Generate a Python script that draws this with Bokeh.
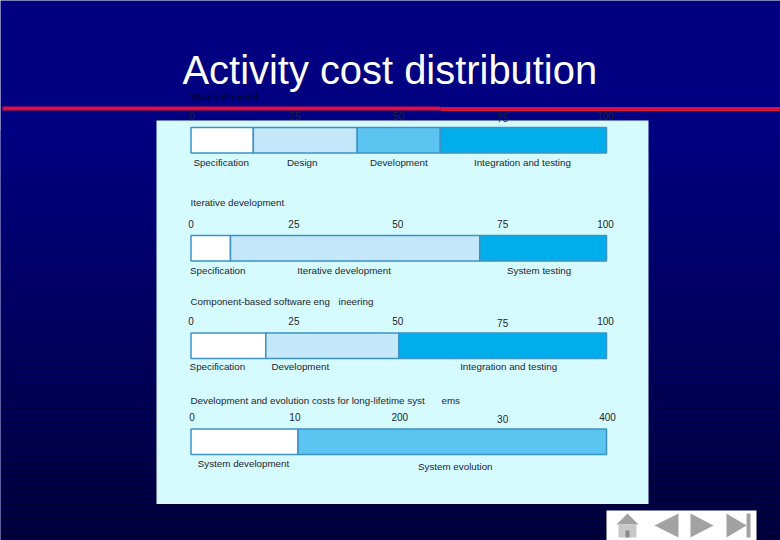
from bokeh.core.properties import value
from bokeh.embed import file_html
from bokeh.models import Range1d
from bokeh.plotting import figure
from bokeh.resources import INLINE

# ---- data ----
TITLE = "Activity cost distribution"
row1_name = "Waterfall model"
row1_stages = ["Specification", "Design", "Development", "Integration and testing"]
row1_costs = [15, 25, 20, 40]
row1_ticks = ["0", "25", "50", "75", "100"]
row1_tick_values = [0, 25, 50, 75, 100]

row2_name = ["Iterative development"]
row2_stages = ["Specification", "Iterative development", "System testing"]
row2_costs = [9.5, 60, 30.5]
row2_ticks = ["0", "25", "50", "75", "100"]
row2_tick_values = [0, 25, 50, 75, 100]

row3_name = ["Component-based software eng", "ineering"]
row3_stages = ["Specification", "Development", "Integration and testing"]
row3_costs = [18, 32, 50]
row3_ticks = ["0", "25", "50", "75", "100"]
row3_tick_values = [0, 25, 50, 75, 100]

row4_name = ["Development and evolution costs for long-lifetime syst", "ems"]
row4_stages = ["System development", "System evolution"]
row4_costs = [103, 297]
row4_ticks = ["0", "10", "200", "30", "400"]
row4_tick_values = [0, 100, 200, 300, 400]

# ---- layout, in reference-window pixels ----
W, H = 780, 540
FONT = value("Liberation Sans")
TXT = "#1c2630"
X0, SCALE = 190.5, 4.155
LABEL_SIZE = "9.8px"

p = figure(width=W, height=H, output_backend="svg", toolbar_location=None,
           x_range=Range1d(0, W), y_range=Range1d(H, 0),
           min_border=0, outline_line_color=None, background_fill_color="#000080")
p.axis.visible = False
p.grid.visible = False

p.extra_x_ranges = {
    "pct": Range1d(-X0 / SCALE, (W - X0) / SCALE),
    "cost": Range1d(-X0 / SCALE * 4, (W - X0) / SCALE * 4),
}

# background gradient
top, bottom = (0, 0, 128), (0, 0, 52)
for y in range(130, H, 6):
    t = (y - 130) / (H - 130)
    col = tuple(round(a + (b - a) * t) for a, b in zip(top, bottom))
    p.quad(left=0, right=W, top=y, bottom=y + 6, fill_color="#%02x%02x%02x" % col, line_color=None)

# panel and rule
p.quad(left=156, right=648, top=120, bottom=503.5, fill_color="#d6fbff", line_color=None)
p.quad(left=2, right=440, top=106, bottom=110, fill_color="#dc1040", line_color=None)
p.quad(left=440, right=W, top=106.5, bottom=110.5, fill_color="#dc1040", line_color=None)

# title
p.text(x=[182], y=[69], text=[TITLE], text_font=FONT, text_font_size="39.9px", text_color="#ffffff",
       text_baseline="alphabetic", text_align="left")

FILLS = {"w": "#ffffff", "l": "#c4e8fa", "m": "#5cc4f0", "d": "#00aeeb"}


def draw_row(rng, costs, stages, ticks, tvals, fills, bar_top, bar_bot, label_y, tick_y, dx, off):
    lefts, s = [], 0
    for c in costs:
        lefts.append(s)
        s += c
    rights = [a + b for a, b in zip(lefts, costs)]
    p.quad(left=lefts, right=rights, top=bar_top, bottom=bar_bot, x_range_name=rng,
           fill_color=[FILLS[f] for f in fills], line_color="#3c92c6", line_width=1.5)
    centres = [(a + b) / 2 for a, b in zip(lefts, rights)]
    p.text(x=centres, y=label_y, text=stages, x_range_name=rng, x_offset=off, text_font=FONT,
           text_font_size=LABEL_SIZE, text_color=TXT, text_align="center", text_baseline="middle")
    p.text(x=tvals, y=tick_y, text=ticks, x_range_name=rng, x_offset=dx, text_font=FONT,
           text_font_size="10px", text_color=TXT, text_align="center", text_baseline="middle")


draw_row("pct", row1_costs, row1_stages, row1_ticks, row1_tick_values, "wlmd", 127, 152.5, 161.5,
         [115, 115, 115, 117, 115], [1, 0, 0, 0, -1], [-1, -3, 0, -1])
draw_row("pct", row2_costs, row2_stages, row2_ticks, row2_tick_values, "wld", 235, 260.5, 269.5,
         223, [0, -1, -1, 0, -1], [7, -11, -4])
draw_row("pct", row3_costs, row3_stages, row3_ticks, row3_tick_values, "wld", 332.5, 358, 366,
         [320, 320, 320, 322, 320], [0, -1, -1, 0, -1], [-11, -32, 6])
draw_row("cost", row4_costs, row4_stages, row4_ticks, row4_tick_values, "wm", 428.5, 454, [463, 466],
         [416, 416, 416, 418, 416], [1, 0, 1, 0, 1], [-1, 3])

# row names
p.text(x=[190], y=[96], text=[row1_name], text_font=FONT, text_font_size=LABEL_SIZE, text_color="#000010",
       text_baseline="middle")
p.text(x=[190], y=[201.5], text=row2_name, text_font=FONT, text_font_size=LABEL_SIZE, text_color=TXT,
       text_baseline="middle")
p.text(x=[190, 338], y=[300.5, 300.5], text=row3_name, text_font=FONT, text_font_size=LABEL_SIZE, text_color=TXT,
       text_baseline="middle")
p.text(x=[190, 441], y=[400, 400], text=row4_name, text_font=FONT, text_font_size=LABEL_SIZE, text_color=TXT,
       text_baseline="middle")

# navigation bar
GREY = "#a2a2a2"
p.quad(left=606, right=756, top=510, bottom=H, fill_color="#ffffff", line_color=None)
p.patch([616, 627, 638], [524, 513, 524], fill_color=GREY, line_color=None)
p.quad(left=618, right=636, top=524, bottom=537, fill_color="#c8c8c8", line_color=None)
p.quad(left=625, right=629, top=530, bottom=537, fill_color="#888888", line_color=None)
p.patch([654, 678, 678], [525, 513, 537], fill_color=GREY, line_color=None)
p.patch([690, 690, 713], [513, 537, 525], fill_color=GREY, line_color=None)
p.patch([726, 726, 746], [513, 537, 525], fill_color=GREY, line_color=None)
p.quad(left=746, right=750, top=513, bottom=537, fill_color=GREY, line_color=None)

open("out.html", "w").write(file_html(p, INLINE))
